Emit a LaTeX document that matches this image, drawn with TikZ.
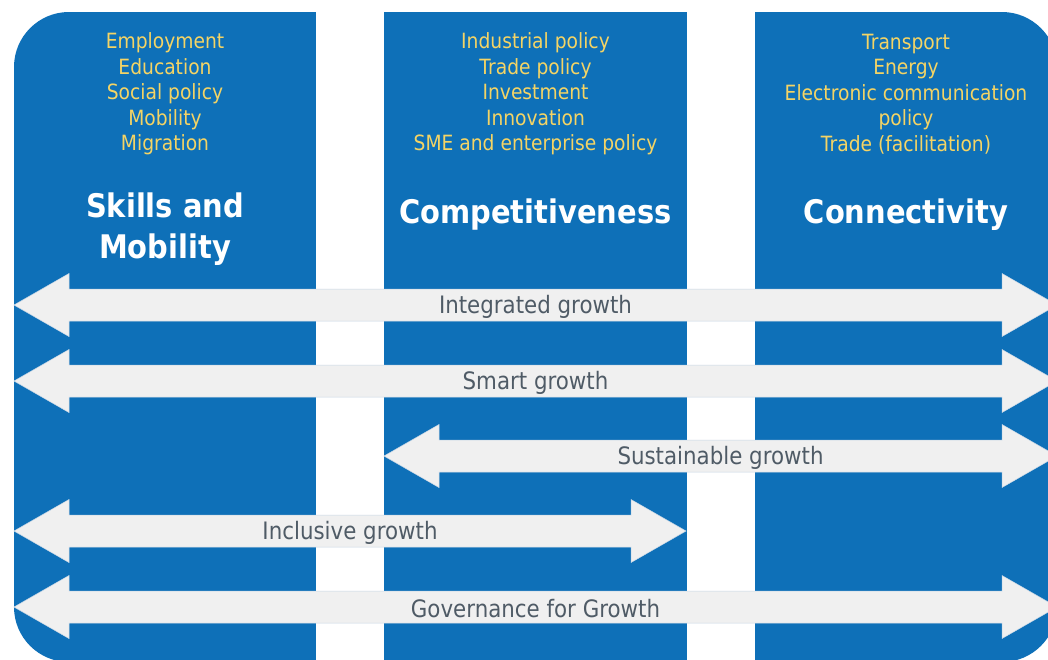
\documentclass[tikz,border=0pt]{standalone}
\usepackage{fontspec}
\setmainfont{DejaVu Sans}[FakeStretch=0.89]
\definecolor{colblue}{HTML}{0E70B8}
\definecolor{polyyellow}{HTML}{F4D465}
\definecolor{arrowgray}{HTML}{F0F0F0}
\definecolor{labelgray}{HTML}{4F5B66}
\definecolor{arrowedge}{HTML}{C8D7E6}
\tikzset{
  x=1pt, y=-1pt,
  policies/.style={text=polyyellow, align=center, inner sep=0pt, font=\fontsize{21}{25.5}\selectfont},
  pillar/.style={text=white, align=center, inner sep=0pt, font=\fontsize{32.5}{41}\selectfont\bfseries},
  growthlabel/.style={text=labelgray, inner sep=0pt, font=\fontsize{24}{28}\selectfont},
  arrowbody/.style={fill=arrowgray, draw=arrowedge, line width=0.5pt},
}
\newcommand\growtharrow[5]{%
  \draw[arrowbody] (#2,#4) -- (#2+55,#4-31.5) -- (#2+55,#4-16) -- (#3-55,#4-16)
    -- (#3-55,#4-31.5) -- (#3,#4) -- (#3-55,#4+31.5) -- (#3-55,#4+16)
    -- (#2+55,#4+16) -- (#2+55,#4+31.5) -- cycle;
  \node[growthlabel] (#1) at ({(#2+#3)/2},#4+2) {#5};}
\begin{document}
\begin{tikzpicture}
\useasboundingbox (0,0) rectangle (1048,659);
\clip (0,0) rectangle (1048,659);
% pillars
\fill[colblue, rounded corners=55pt] (14,12) rectangle (1057,662);
\fill[white] (316,0) rectangle (384,670);
\fill[white] (687,0) rectangle (755,670);
% texts in pillars
\node[policies] (p1) at (165,94) {Employment\\Education\\Social policy\\Mobility\\Migration};
\node[policies] (p2) at (535.5,94) {Industrial policy\\Trade policy\\Investment\\Innovation\\SME and enterprise policy};
\node[policies] (p3) at (906,94) {Transport\\Energy\\Electronic communication\\policy\\Trade (facilitation)};
\node[pillar] (h1) at (165,229) {Skills and\\Mobility};
\node[pillar] (h2) at (535.5,215) {Competitiveness};
\node[pillar] (h3) at (906,215) {Connectivity};
% growth arrows
\growtharrow{a1}{14}{1057}{305}{Integrated growth}
\growtharrow{a2}{14}{1057}{381}{Smart growth}
\growtharrow{a3}{384}{1057}{456}{Sustainable growth}
\growtharrow{a4}{14}{686}{531}{Inclusive growth}
\growtharrow{a5}{14}{1057}{607}{Governance for Growth}
\end{tikzpicture}
\end{document}
